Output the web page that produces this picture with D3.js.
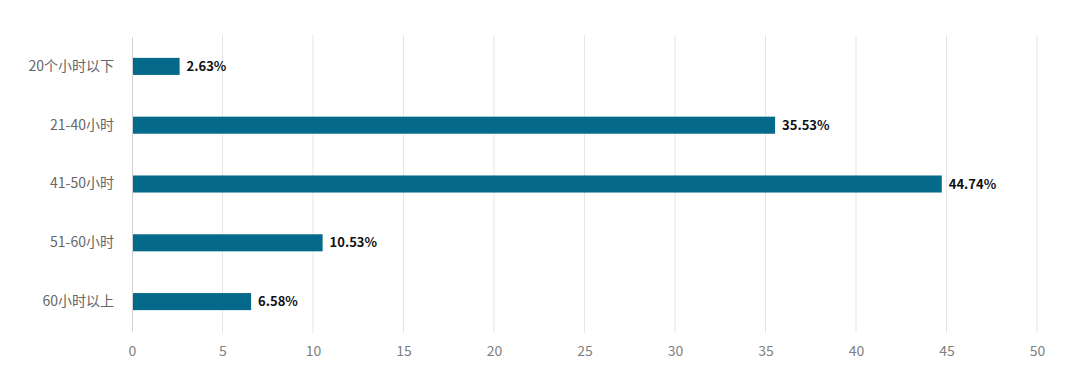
<!DOCTYPE html>
<html>
<head>
<meta charset="utf-8">
<script src="https://cdn.jsdelivr.net/npm/d3@7"></script>
<style>
  body { margin: 0; background: #fff; }
  svg text { font-family: "Noto Sans CJK SC", "Noto Sans", sans-serif; }
</style>
</head>
<body>
<div id="chart"></div>
<script>
// data
const categories = ["20个小时以下", "21-40小时", "41-50小时", "51-60小时", "60小时以上"];
const values = [2.63, 35.53, 44.74, 10.53, 6.58];
const xTicks = [0, 5, 10, 15, 20, 25, 30, 35, 40, 45, 50];

const width = 1080, height = 387;
const margin = {top: 35, right: 43, bottom: 54, left: 132};

let svg = d3.select("#chart")
    .append("svg")
    .attr("width", width)
    .attr("height", height);

let g = svg.append("g")
    .attr("transform", `translate(${margin.left}, ${margin.top})`);

let innerW = width - margin.left - margin.right;
let innerH = height - margin.top - margin.bottom;

let x = d3.scaleLinear()
    .domain([0, 50])
    .range([0, innerW]);

let y = d3.scaleBand()
    .domain(categories)
    .range([2, innerH - 2])
    .paddingInner(0.71)
    .paddingOuter(0.355);

// gridlines
g.append("g")
    .selectAll("line")
    .data(xTicks.slice(1))
    .enter()
    .append("line")
    .attr("x1", d => x(d))
    .attr("x2", d => x(d))
    .attr("y1", 0)
    .attr("y2", innerH)
    .attr("stroke", "#e6e6e6")
    .attr("stroke-width", 1);

// x axis labels
let xAxis = g.append("g")
    .attr("transform", `translate(0, ${innerH})`)
    .call(d3.axisBottom(x).tickValues(xTicks).tickSize(0).tickPadding(13));
xAxis.select(".domain").remove();
xAxis.selectAll("text")
    .style("font-size", "14px")
    .attr("fill", "#808080");

// y axis
let yAxis = g.append("g")
    .call(d3.axisLeft(y).tickSize(0).tickPadding(18));
yAxis.select(".domain").attr("stroke", "#d0d0d0");
yAxis.selectAll("text")
    .style("font-size", "14px")
    .attr("fill", "#666");

// bars
g.append("g")
    .selectAll("rect")
    .data(values)
    .enter()
    .append("rect")
    .attr("x", x(0) + 1)
    .attr("y", (d, i) => y(categories[i]))
    .attr("width", d => x(d) - 1)
    .attr("height", y.bandwidth())
    .attr("fill", "#04698a");

// value labels
g.append("g")
    .selectAll("text")
    .data(values)
    .enter()
    .append("text")
    .attr("x", d => x(d) + 7)
    .attr("y", (d, i) => y(categories[i]) + y.bandwidth() / 2)
    .attr("dy", "0.36em")
    .style("font-size", "13px")
    .style("font-weight", "bold")
    .attr("fill", "#111")
    .text(d => d.toFixed(2) + "%");
</script>
</body>
</html>
